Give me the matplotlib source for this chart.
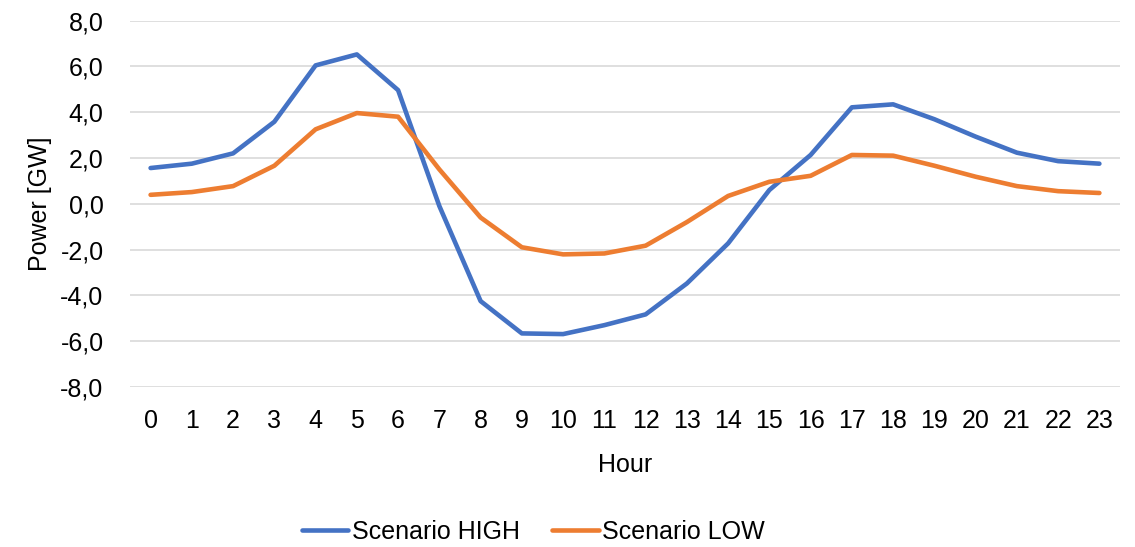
import matplotlib
matplotlib.use("Agg")
import matplotlib.pyplot as plt
from matplotlib.ticker import FuncFormatter, MultipleLocator

plt.rcParams['font.family'] = ['Liberation Sans', 'DejaVu Sans']

hours = list(range(24))
scenario_high = [1.56, 1.75, 2.2, 3.58, 6.04, 6.52, 4.96, -0.1, -4.25, -5.66,
                 -5.69, -5.3, -4.83, -3.48, -1.73, 0.6, 2.13, 4.21, 4.34, 3.69,
                 2.93, 2.23, 1.86, 1.75]
scenario_low = [0.39, 0.51, 0.77, 1.66, 3.25, 3.96, 3.8, 1.5, -0.6, -1.9,
                -2.21, -2.17, -1.83, -0.8, 0.34, 0.96, 1.22, 2.13, 2.1, 1.66,
                1.18, 0.77, 0.55, 0.47]

fig = plt.figure(figsize=(11.35, 5.47), dpi=100)
ax = fig.add_axes([0.1145, 0.2925, 0.8723, 0.67])

ax.plot(hours, scenario_high, color='#4472C4', lw=3.3, label='Scenario HIGH',
        solid_capstyle='round', solid_joinstyle='round')
ax.plot(hours, scenario_low, color='#ED7D31', lw=3.3, label='Scenario LOW',
        solid_capstyle='round', solid_joinstyle='round')

ax.set_xlim(-0.5, 23.5)
ax.set_ylim(-8, 8)
ax.set_xticks(hours)
ax.yaxis.set_major_locator(MultipleLocator(2))
ax.yaxis.set_major_formatter(FuncFormatter(lambda v, p: f"{v:.1f}".replace('.', ',')))
ax.grid(axis='y', color='#D9D9D9', lw=1.2)
ax.set_axisbelow(True)
for s in ax.spines.values():
    s.set_visible(False)
ax.tick_params(axis='both', length=0, labelsize=18, colors='black')
ax.tick_params(axis='y', pad=19)
ax.tick_params(axis='x', pad=16)

ax.set_xlabel('Hour', fontsize=18, labelpad=14)
ax.set_ylabel('Power [GW]', fontsize=18, labelpad=6)

fig.legend(loc='lower center', bbox_to_anchor=(0.47, -0.035), ncol=2, frameon=False,
           fontsize=18, handlelength=1.85, handletextpad=0.15, columnspacing=1.3)

fig.savefig('out.png', dpi=100)
